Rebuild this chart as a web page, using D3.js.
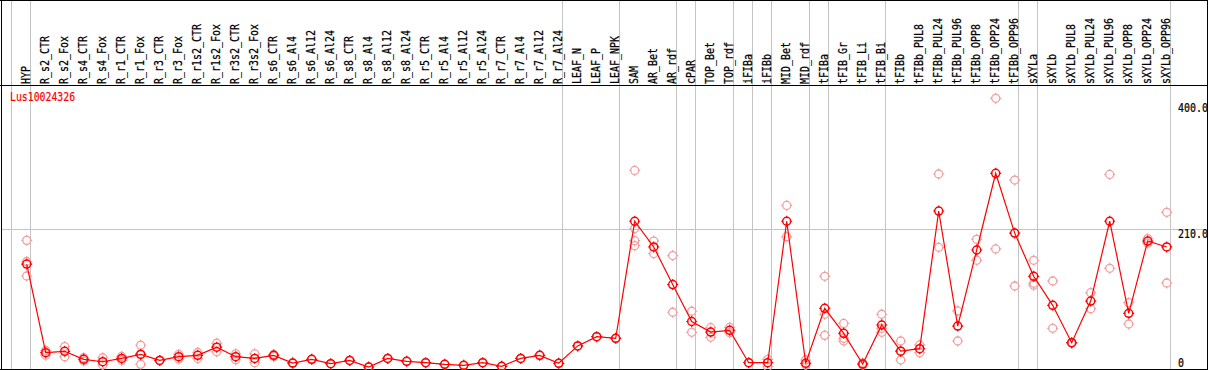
<!DOCTYPE html>
<html><head><meta charset="utf-8">
<script src="https://cdn.jsdelivr.net/npm/d3@7"></script>
<style>html,body{margin:0;padding:0;background:#fff;overflow:hidden}</style>
</head><body>
<svg id="c" width="1209" height="370"></svg>
<script>
const title = "Lus10024326";
const categories = ["HYP","R_s2_CTR","R_s2_Fox","R_s4_CTR","R_s4_Fox","R_r1_CTR","R_r1_Fox","R_r3_CTR","R_r3_Fox","R_r1s2_CTR","R_r1s2_Fox","R_r3s2_CTR","R_r3s2_Fox","R_s6_CTR","R_s6_Al4","R_s6_Al12","R_s6_Al24","R_s8_CTR","R_s8_Al4","R_s8_Al12","R_s8_Al24","R_r5_CTR","R_r5_Al4","R_r5_Al12","R_r5_Al24","R_r7_CTR","R_r7_Al4","R_r7_Al12","R_r7_Al24","LEAF_N","LEAF_P","LEAF_NPK","SAM","AR_Bet","AR_rdf","cPAR","TOP_Bet","TOP_rdf","iFIBa","iFIBb","MID_Bet","MID_rdf","tFIBa","tFIB_Gr","tFIB_Li","tFIB_Bi","tFIBb","tFIBb_PUL8","tFIBb_PUL24","tFIBb_PUL96","tFIBb_OPP8","tFIBb_OPP24","tFIBb_OPP96","sXYLa","sXYLb","sXYLb_PUL8","sXYLb_PUL24","sXYLb_PUL96","sXYLb_OPP8","sXYLb_OPP24","sXYLb_OPP96"];
const means = [156,21.7,23.8,11.6,8,13,19,10,15.6,17.7,30,15.6,13,17.7,6,11.6,5,10,0,13,8.6,6.5,4,2.5,6.5,1,13,17.7,5.6,32,46,43.5,221,182,125,69,53,55.6,6.5,6.5,221,5.6,89,51,4.5,63.7,24,27.8,236.5,62,177.4,293.7,203,137.5,93.5,36.9,100,221,81.4,191,182];
const replicates = [[192,160,138],[25,18],[31,15.6],[14,9],[14,3],[16,10],[33,4,20],[10,10],[19,12],[22,13],[36,23],[20,11],[20,6.5],[19,16],[6,6],[11.6],[5],[10],[0],[13],[8.6],[6.5],[4],[2.5],[6.5],[1],[13],[17.7],[5.6],[32],[46],[43.5],[298,210,191.5,184],[191,172],[169,83],[84.5,52.6],[59.6,45],[60,52],[6.5],[11.6,0.5],[245,197.6],[10.6,3],[137.5,80,48],[66,43.5,39.4],[3,6],[80,52.6,58.7],[39.4,24,10.6],[33.4,21.7],[292.6,181.5],[85,39.4],[193.6,161.8],[407.4,179],[283.5,122.8],[161.8,127,124],[130.4,58.7],[37,36],[112.7,88.4],[292,149.6],[97.5,65.2],[194.6,187.6],[234.6,127.4]];
const groupEnds = ["HYP","R_r7_Al24","LEAF_NPK","AR_rdf","cPAR","TOP_rdf","iFIBa","iFIBb","MID_rdf","tFIBa","tFIB_Bi","tFIBb_OPP96","sXYLa","sXYLb_OPP96"];
const yTicks = [0,210,400];
const yTickLabels = ["0","210.0","400.0"];
const yGrid = [210];

const svg = d3.select("#c");
const x = d3.scalePoint().domain(categories).range([26.7, 1166.7]);
const step = x.step();
const y = d3.scaleLinear().domain([0, 210]).range([367, 228.5]);

const grey = "#c4c4c4";
svg.selectAll("line.hg").data(yGrid).enter().append("line")
  .attr("x1", 1).attr("x2", 1207).attr("y1", d => Math.round(y(d)) + 0.5).attr("y2", d => Math.round(y(d)) + 0.5)
  .attr("stroke", grey).attr("stroke-width", 1);
const sepX = [x(categories[0]) - step + 3.5].concat(groupEnds.map(c => x(c) + 3.5));
svg.selectAll("line.vg").data(sepX).enter().append("line")
  .attr("x1", d => Math.round(d) + 0.5).attr("x2", d => Math.round(d) + 0.5).attr("y1", 0).attr("y2", 369)
  .attr("stroke", grey).attr("stroke-width", 1);

const bk = "#000";
[[0,0.5,1208,0.5],[0,85.5,1208,85.5],[0,369.5,1208,369.5],[1.5,0,1.5,370],[1207.5,0,1207.5,370]].forEach(l => {
  svg.append("line").attr("x1", l[0]).attr("y1", l[1]).attr("x2", l[2]).attr("y2", l[3]).attr("stroke", bk).attr("stroke-width", 1);
});

const FONT = "'DejaVu Sans Mono', monospace";
svg.selectAll("text.cat").data(categories).enter().append("text")
  .attr("transform", d => `translate(${x(d) + 3.3},84) rotate(-90) scale(0.83,1)`)
  .attr("font-family", FONT).attr("font-size", 12).attr("fill", "#000")
  .attr("stroke", "#000").attr("stroke-width", 0.25)
  .text(d => d);

svg.append("text").attr("transform", "translate(10,101) scale(0.82,1)")
  .attr("font-family", FONT).attr("font-size", 12).attr("fill", "#ff0000")
  .attr("stroke", "#ff0000").attr("stroke-width", 0.2).text(title);

const yAxis = d3.axisRight(y).tickValues(yTicks).tickSize(0)
  .tickFormat((d, i) => yTickLabels[i]);
const ag = svg.append("g").attr("transform", "translate(1178,0)").call(yAxis);
ag.select(".domain").remove();
ag.selectAll("text").attr("font-family", FONT).attr("font-size", 12).attr("fill", "#000")
  .attr("stroke", "#000").attr("stroke-width", 0.2)
  .attr("x", 0).attr("dy", null).attr("dominant-baseline", "auto")
  .attr("transform", d => `translate(0,${d === 0 ? -0.5 : 8.5}) scale(0.83,1)`).attr("text-anchor", "start");

const tick = "M0,-5.5V-3.5M0,3.5V5.5M-5.5,0H-3.5M3.5,0H5.5";
const repPts = [];
replicates.forEach((arr, i) => arr.forEach(v => repPts.push({c: categories[i], v})));
const pink = "#f0a0a0";
const rg = svg.selectAll("g.rep").data(repPts).enter().append("g")
  .attr("transform", d => `translate(${x(d.c)},${y(d.v)})`);
rg.append("circle").attr("r", 4).attr("fill", "none").attr("stroke", pink).attr("stroke-width", 1.3);
rg.append("path").attr("d", tick).attr("stroke", pink).attr("stroke-width", 1.2);

const line = d3.line().x((d, i) => x(categories[i])).y(d => y(d));
svg.append("path").datum(means).attr("d", line).attr("fill", "none").attr("stroke", "#ff0000").attr("stroke-width", 1.2);

const mg = svg.selectAll("g.mean").data(means).enter().append("g")
  .attr("transform", (d, i) => `translate(${x(categories[i])},${y(d)})`);
mg.append("circle").attr("r", 4).attr("fill", "none").attr("stroke", "#ff0000").attr("stroke-width", 1.5);
mg.append("path").attr("d", tick).attr("stroke", "#ff0000").attr("stroke-width", 1.2);
</script>
</body></html>
